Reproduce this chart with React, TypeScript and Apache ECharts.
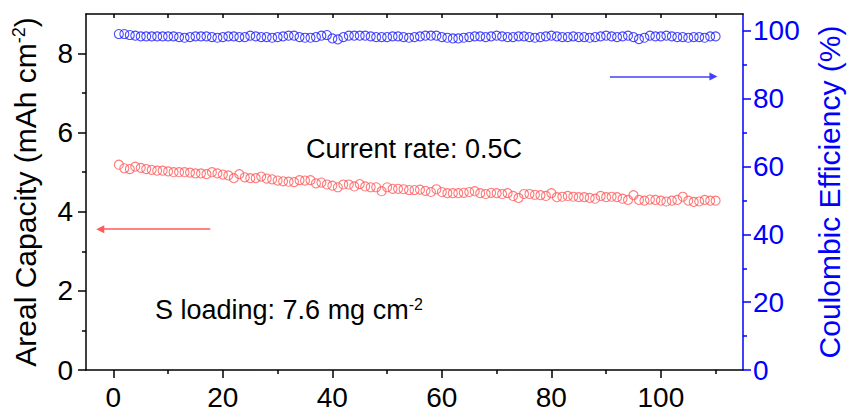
import React, { useEffect, useRef } from 'react';
import * as echarts from 'echarts';

// cycle numbers (x values)
const cycles = Array.from({ length: 110 }, (_, i) => i + 1);

// Areal capacity (mAh cm-2), read from the red hollow circles
const capacity = [
  5.19, 5.10, 5.08, 5.14, 5.11, 5.08, 5.06, 5.04, 5.04, 5.02,
  5.00, 5.00, 5.00, 4.99, 4.97, 4.97, 4.95, 5.00, 4.97, 4.94,
  4.92, 4.85, 4.95, 4.87, 4.85, 4.85, 4.89, 4.84, 4.82, 4.79,
  4.77, 4.76, 4.75, 4.80, 4.79, 4.80, 4.72, 4.74, 4.69, 4.66,
  4.62, 4.69, 4.69, 4.64, 4.70, 4.64, 4.62, 4.62, 4.52, 4.62,
  4.58, 4.58, 4.57, 4.55, 4.55, 4.56, 4.53, 4.50, 4.57, 4.50,
  4.47, 4.47, 4.47, 4.48, 4.50, 4.52, 4.47, 4.45, 4.48, 4.47,
  4.45, 4.47, 4.40, 4.35, 4.45, 4.45, 4.43, 4.42, 4.40, 4.47,
  4.37, 4.38, 4.40, 4.38, 4.37, 4.37, 4.35, 4.33, 4.40, 4.37,
  4.38, 4.37, 4.33, 4.30, 4.42, 4.30, 4.28, 4.31, 4.30, 4.28,
  4.26, 4.28, 4.30, 4.38, 4.28, 4.25, 4.26, 4.30, 4.28, 4.28,
];

// Coulombic efficiency (%), read from the blue hollow circles
const efficiency = [
  99.1, 99.1, 98.8, 98.6, 98.4, 98.4, 98.4, 98.4, 98.4, 98.4,
  98.4, 98.2, 98.0, 98.2, 98.4, 98.4, 98.4, 98.2, 98.0, 98.2,
  98.4, 98.4, 98.2, 98.2, 98.6, 98.4, 98.2, 98.2, 98.0, 98.2,
  98.4, 98.6, 98.6, 98.2, 98.0, 98.0, 98.2, 98.6, 98.8, 97.8,
  97.5, 98.2, 98.6, 98.6, 98.6, 98.6, 98.4, 98.2, 98.2, 98.2,
  98.4, 98.4, 98.2, 98.0, 98.2, 98.4, 98.6, 98.6, 98.6, 98.2,
  98.0, 97.8, 97.8, 98.0, 98.2, 98.4, 98.4, 98.2, 98.4, 98.6,
  98.4, 98.2, 98.2, 98.4, 98.4, 98.2, 98.0, 98.2, 98.4, 98.6,
  98.4, 98.2, 98.2, 98.4, 98.2, 98.2, 98.0, 98.2, 98.4, 98.6,
  98.4, 98.2, 98.4, 98.6, 98.2, 97.6, 98.0, 98.6, 98.4, 98.4,
  98.6, 98.4, 98.2, 98.2, 98.0, 98.2, 98.2, 98.0, 98.4, 98.4,
];

// tick positions / labels
const xMajorTicks = [0, 20, 40, 60, 80, 100];
const xMinorTicks = [10, 30, 50, 70, 90, 110];
const xTopTicks = [0, 10, 20, 30, 40, 50, 60, 70, 80, 90, 100, 110];
const capMajorTicks = [0, 2, 4, 6, 8];
const capMinorTicks = [1, 3, 5, 7];
const ceMajorTicks = [0, 20, 40, 60, 80, 100];
const ceMinorTicks = [10, 30, 50, 70, 90];

// arrow annotations in data coordinates [from, to]
const capArrow = [[17.7, 3.56], [-2.4, 3.56]];
const ceArrow = [[90.7, 86.6], [109.6, 86.6]];

const annotationRate = 'Current rate: 0.5C';
const annotationLoading = 'S loading: 7.6 mg cm{sup|-2}';

const FONT = '"Liberation Sans", Arial, Helvetica, sans-serif';
const RED = '#ff5a5a';
const BLUE = '#1e1eff';
const AXIS_BLUE = '#0000ff';

export default function App() {
  const ref = useRef<HTMLDivElement>(null);

  useEffect(() => {
    if (!ref.current) return;
    const chart = echarts.init(ref.current, undefined, { renderer: 'svg' });

    const blackLine = { color: '#000', width: 1.5 };
    const blueLine = { color: AXIS_BLUE, width: 1.5 };

    const option: any = {
      animation: false,
      textStyle: { fontFamily: FONT },
      grid: { left: 86, right: 103, top: 14, bottom: 42, containLabel: false },
      xAxis: [
        {
          type: 'value', position: 'bottom', min: -5, max: 115,
          splitLine: { show: false },
          axisLine: { show: true, onZero: false, lineStyle: blackLine },
          axisTick: { show: true, length: 8, customValues: xMajorTicks, lineStyle: blackLine },
          axisLabel: { show: true, customValues: xMajorTicks, margin: 13, fontSize: 28, color: '#000', fontFamily: FONT },
        },
        {
          type: 'value', position: 'bottom', min: -5, max: 115,
          splitLine: { show: false },
          axisLine: { show: false, onZero: false },
          axisTick: { show: true, length: 4, customValues: xMinorTicks, lineStyle: blackLine },
          axisLabel: { show: false },
        },
        {
          type: 'value', position: 'top', min: -5, max: 115,
          splitLine: { show: false },
          axisLine: { show: true, onZero: false, lineStyle: blackLine },
          axisTick: { show: true, inside: true, length: 4, customValues: xTopTicks, lineStyle: blackLine },
          axisLabel: { show: false },
        },
      ],
      yAxis: [
        {
          type: 'value', position: 'left', min: 0, max: 9,
          splitLine: { show: false },
          axisLine: { show: true, onZero: false, lineStyle: blackLine },
          axisTick: { show: true, length: 8, customValues: capMajorTicks, lineStyle: blackLine },
          axisLabel: { show: true, customValues: capMajorTicks, margin: 13, fontSize: 28, color: '#000', fontFamily: FONT },
          name: 'Areal Capacity (mAh cm{sup|-2})',
          nameLocation: 'middle',
          nameRotate: 90,
          nameGap: 46,
          nameTextStyle: {
            fontSize: 30, color: '#000', fontFamily: FONT,
            rich: { sup: { fontSize: 18, verticalAlign: 'top', color: '#000', fontFamily: FONT } },
          },
        },
        {
          type: 'value', position: 'left', min: 0, max: 9,
          splitLine: { show: false },
          axisLine: { show: false, onZero: false },
          axisTick: { show: true, length: 4, customValues: capMinorTicks, lineStyle: blackLine },
          axisLabel: { show: false },
        },
        {
          type: 'value', position: 'right', min: 0, max: 105,
          splitLine: { show: false },
          axisLine: { show: true, onZero: false, lineStyle: blueLine },
          axisTick: { show: true, length: 8, customValues: ceMajorTicks, lineStyle: blueLine },
          axisLabel: { show: true, customValues: ceMajorTicks, margin: 10, fontSize: 28, color: AXIS_BLUE, fontFamily: FONT },
          name: 'Coulombic Efficiency (%)',
          nameLocation: 'middle',
          nameRotate: 90,
          nameGap: 71,
          nameTextStyle: { fontSize: 30, color: AXIS_BLUE, fontFamily: FONT },
        },
        {
          type: 'value', position: 'right', min: 0, max: 105,
          splitLine: { show: false },
          axisLine: { show: false, onZero: false },
          axisTick: { show: true, length: 4, customValues: ceMinorTicks, lineStyle: blueLine },
          axisLabel: { show: false },
        },
      ],
      graphic: [
        {
          type: 'text', left: 306, top: 135, silent: true,
          style: { text: annotationRate, fontSize: 27, fontFamily: FONT, fill: '#000' },
        },
        {
          type: 'text', left: 155, top: 296, silent: true,
          style: {
            text: annotationLoading, fontSize: 27, fontFamily: FONT, fill: '#000',
            rich: { sup: { fontSize: 16, verticalAlign: 'top', padding: [0, 0, 6, 0], fontFamily: FONT, fill: '#000' } },
          },
        },
      ],
      series: [
        {
          type: 'scatter', xAxisIndex: 0, yAxisIndex: 0,
          data: cycles.map((c, i) => [c, capacity[i]]),
          symbol: 'circle', symbolSize: 9,
          itemStyle: { color: 'rgba(255,255,255,0)', borderColor: RED, borderWidth: 1.1 },
          emphasis: { disabled: true },
          markLine: {
            silent: true,
            symbol: ['none', 'triangle'],
            symbolSize: 8,
            label: { show: false },
            lineStyle: { color: RED, width: 1.5, type: 'solid' },
            emphasis: { disabled: true },
            data: [[{ coord: capArrow[0] }, { coord: capArrow[1] }]],
          },
        },
        {
          type: 'scatter', xAxisIndex: 0, yAxisIndex: 2,
          data: cycles.map((c, i) => [c, efficiency[i]]),
          symbol: 'circle', symbolSize: 9,
          itemStyle: { color: 'rgba(255,255,255,0)', borderColor: BLUE, borderWidth: 1.1 },
          emphasis: { disabled: true },
          markLine: {
            silent: true,
            symbol: ['none', 'triangle'],
            symbolSize: 8,
            label: { show: false },
            lineStyle: { color: '#4040ff', width: 1.5, type: 'solid' },
            emphasis: { disabled: true },
            data: [[{ coord: ceArrow[0] }, { coord: ceArrow[1] }]],
          },
        },
      ],
    };

    chart.setOption(option);
    return () => chart.dispose();
  }, []);

  return (
    <div
      ref={ref}
      style={{ position: 'fixed', left: 0, top: 0, width: 852, height: 412, background: '#fff' }}
    />
  );
}
